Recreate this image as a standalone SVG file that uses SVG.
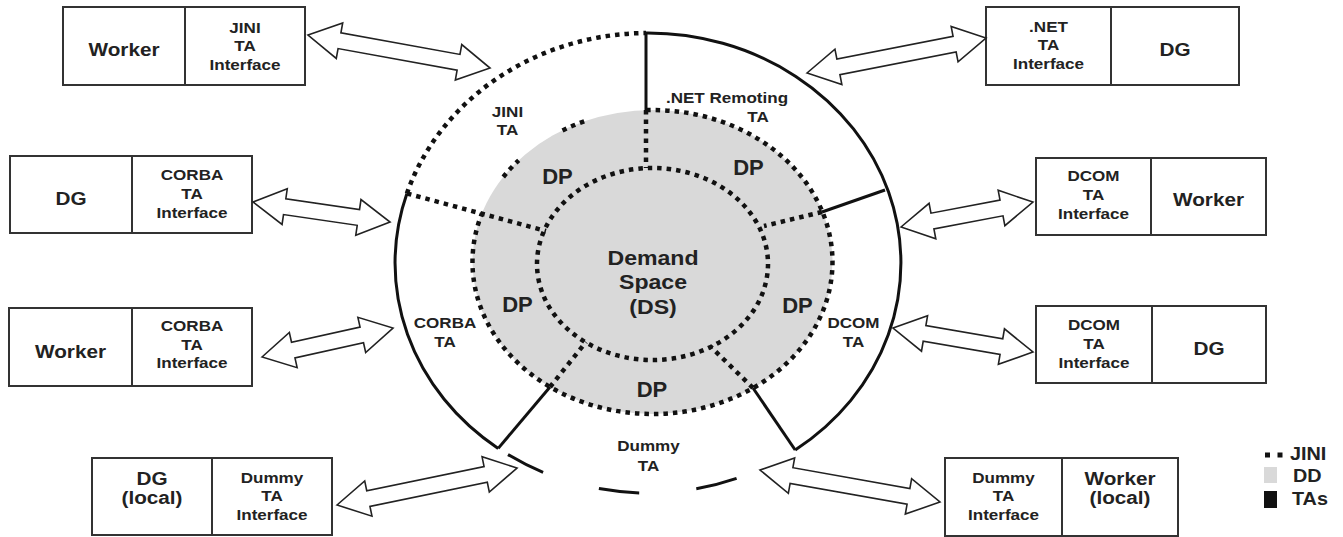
<svg xmlns="http://www.w3.org/2000/svg" width="1343" height="537" viewBox="0 0 1343 537">
<style>
.bx{fill:#fff;stroke:#333;stroke-width:2}
.dv{stroke:#333;stroke-width:2}
.t{font-family:"Liberation Sans",Arial,sans-serif;font-weight:bold;fill:#222;text-anchor:middle}
.big{font-size:18.5px}
.sm{font-size:15.5px}
.dp{font-size:22px}
.ds{font-size:21px}
.lg{font-size:18px;text-anchor:start}
.sol{fill:none;stroke:#111;stroke-width:3}
.dot{fill:none;stroke:#111;stroke-width:4.5;stroke-dasharray:4.5 5}
.ar{fill:#fff;stroke:#222;stroke-width:1.6;stroke-linejoin:miter}
</style>
<rect width="1343" height="537" fill="#fff"/>

<g id="ring">
  <ellipse cx="652.5" cy="262" rx="180" ry="152" fill="#d9d9d9"/>
  <path class="sol" d="M646 33 A253 230 0 0 1 795.2 450"/>
  <path class="sol" d="M498.2 448.4 A253 230 0 0 1 406.9 193.5"/>
  <path class="dot" d="M406.9 193.5 A253 230 0 0 1 646 33"/>
  <path class="sol" d="M508 454.6 A253 230 0 0 0 543.1 472.3"/>
  <path class="sol" d="M598.9 488.6 A253 230 0 0 0 639.2 492.9"/>
  <path class="sol" d="M696.3 488.8 A253 230 0 0 0 736.6 478.4"/>
  <line class="sol" x1="646" y1="33" x2="646" y2="110"/>
  <line class="dot" x1="646" y1="110" x2="646" y2="168"/>
  <line class="dot" x1="407" y1="193.5" x2="546" y2="231"/>
  <line class="sol" x1="885" y1="190" x2="822" y2="212"/>
  <line class="dot" x1="822" y1="212" x2="764" y2="226"/>
  <line class="sol" x1="498.2" y1="448.4" x2="550" y2="387"/>
  <line class="dot" x1="550" y1="387" x2="586" y2="342"/>
  <line class="sol" x1="795.2" y1="450" x2="753" y2="388"/>
  <line class="dot" x1="753" y1="388" x2="710" y2="346"/>
  <path class="dot" d="M646.2 110.1 A180 152 0 1 1 482.1 213"/>
  <path class="dot" d="M503.3 177 A180 152 0 0 1 518.7 160.3"/>
  <path class="dot" d="M562.5 130.4 A180 152 0 0 1 588 120.1"/>
  <ellipse class="dot" cx="652.5" cy="264" rx="115.5" ry="96"/>
  <text class="t sm" transform="translate(507.5 0) scale(1.1 1)"><tspan x="0" y="117">JINI</tspan><tspan x="0" y="135.5">TA</tspan></text>
  <text class="t sm" transform="translate(727 0) scale(1.1 1)"><tspan x="0" y="103">.NET Remoting</tspan></text>
  <text class="t sm" transform="translate(758 0) scale(1.1 1)"><tspan x="0" y="122">TA</tspan></text>
  <text class="t sm" transform="translate(445 0) scale(1.1 1)"><tspan x="0" y="328">CORBA</tspan><tspan x="0" y="347">TA</tspan></text>
  <text class="t sm" transform="translate(853.5 0) scale(1.1 1)"><tspan x="0" y="328">DCOM</tspan><tspan x="0" y="347">TA</tspan></text>
  <text class="t sm" transform="translate(648.5 0) scale(1.1 1)"><tspan x="0" y="451.5">Dummy</tspan><tspan x="0" y="471.5">TA</tspan></text>
  <text class="t dp" x="557.5" y="184">DP</text>
  <text class="t dp" x="748.5" y="175">DP</text>
  <text class="t dp" x="517.5" y="311.5">DP</text>
  <text class="t dp" x="797.5" y="313">DP</text>
  <text class="t dp" x="652" y="396.5">DP</text>
  <text class="t ds" transform="translate(653 0) scale(1.1 1)"><tspan x="0" y="265">Demand</tspan><tspan x="0" y="289.5">Space</tspan><tspan x="0" y="314">(DS)</tspan></text>
</g>

<g id="box-jini-worker">
  <rect class="bx" x="63" y="7" width="242" height="78"/>
  <line class="dv" x1="185" y1="7" x2="185" y2="85"/>
  <text class="t big" transform="translate(124 0) scale(1.12 1)"><tspan x="0" y="56">Worker</tspan></text>
  <text class="t sm" transform="translate(245 0) scale(1.1 1)"><tspan x="0" y="33">JINI</tspan><tspan x="0" y="51.5">TA</tspan><tspan x="0" y="70">Interface</tspan></text>
</g>
<g id="box-corba-dg">
  <rect class="bx" x="10" y="156" width="242" height="77"/>
  <line class="dv" x1="132" y1="156" x2="132" y2="233"/>
  <text class="t big" transform="translate(71 0) scale(1.12 1)"><tspan x="0" y="205">DG</tspan></text>
  <text class="t sm" transform="translate(192 0) scale(1.1 1)"><tspan x="0" y="180">CORBA</tspan><tspan x="0" y="199">TA</tspan><tspan x="0" y="218">Interface</tspan></text>
</g>
<g id="box-corba-worker">
  <rect class="bx" x="9" y="308" width="243" height="78"/>
  <line class="dv" x1="132" y1="308" x2="132" y2="386"/>
  <text class="t big" transform="translate(70.5 0) scale(1.12 1)"><tspan x="0" y="358">Worker</tspan></text>
  <text class="t sm" transform="translate(192 0) scale(1.1 1)"><tspan x="0" y="331.5">CORBA</tspan><tspan x="0" y="350">TA</tspan><tspan x="0" y="368.5">Interface</tspan></text>
</g>
<g id="box-dummy-dg">
  <rect class="bx" x="92" y="458" width="240" height="77"/>
  <line class="dv" x1="212" y1="458" x2="212" y2="535"/>
  <text class="t big" transform="translate(152 0) scale(1.12 1)"><tspan x="0" y="485">DG</tspan><tspan x="0" y="504.5">(local)</tspan></text>
  <text class="t sm" transform="translate(272 0) scale(1.1 1)"><tspan x="0" y="483">Dummy</tspan><tspan x="0" y="501.5">TA</tspan><tspan x="0" y="520">Interface</tspan></text>
</g>
<g id="box-net-dg">
  <rect class="bx" x="986" y="7" width="253" height="78"/>
  <line class="dv" x1="1111" y1="7" x2="1111" y2="85"/>
  <text class="t sm" transform="translate(1048.5 0) scale(1.1 1)"><tspan x="0" y="32">.NET</tspan><tspan x="0" y="50.5">TA</tspan><tspan x="0" y="69">Interface</tspan></text>
  <text class="t big" transform="translate(1175 0) scale(1.12 1)"><tspan x="0" y="56.5">DG</tspan></text>
</g>
<g id="box-dcom-worker">
  <rect class="bx" x="1036" y="158" width="230" height="77"/>
  <line class="dv" x1="1151" y1="158" x2="1151" y2="235"/>
  <text class="t sm" transform="translate(1093.5 0) scale(1.1 1)"><tspan x="0" y="181.5">DCOM</tspan><tspan x="0" y="200">TA</tspan><tspan x="0" y="219">Interface</tspan></text>
  <text class="t big" transform="translate(1208.5 0) scale(1.12 1)"><tspan x="0" y="206.5">Worker</tspan></text>
</g>
<g id="box-dcom-dg">
  <rect class="bx" x="1036" y="306" width="230" height="77"/>
  <line class="dv" x1="1152" y1="306" x2="1152" y2="383"/>
  <text class="t sm" transform="translate(1094 0) scale(1.1 1)"><tspan x="0" y="330">DCOM</tspan><tspan x="0" y="349">TA</tspan><tspan x="0" y="368">Interface</tspan></text>
  <text class="t big" transform="translate(1209 0) scale(1.12 1)"><tspan x="0" y="355">DG</tspan></text>
</g>
<g id="box-dummy-worker">
  <rect class="bx" x="945" y="458" width="233" height="78"/>
  <line class="dv" x1="1062" y1="458" x2="1062" y2="536"/>
  <text class="t sm" transform="translate(1003.5 0) scale(1.1 1)"><tspan x="0" y="483">Dummy</tspan><tspan x="0" y="501.5">TA</tspan><tspan x="0" y="520">Interface</tspan></text>
  <text class="t big" transform="translate(1120 0) scale(1.12 1)"><tspan x="0" y="485">Worker</tspan><tspan x="0" y="504.5">(local)</tspan></text>
</g>

<g id="connectors">
  <polygon class="ar" transform="translate(308 35) rotate(10.28)" points="0,0 32,-18 32,-8 153,-8 153,-18 185,0 153,18 153,8 32,8 32,18"/>
  <polygon class="ar" transform="translate(253 202) rotate(8.31)" points="0,0 32,-18 32,-8 106.5,-8 106.5,-18 138.5,0 106.5,18 106.5,8 32,8 32,18"/>
  <polygon class="ar" transform="translate(262 357) rotate(-12.48)" points="0,0 32,-18 32,-8 102.2,-8 102.2,-18 134.2,0 102.2,18 102.2,8 32,8 32,18"/>
  <polygon class="ar" transform="translate(337 505) rotate(-11.62)" points="0,0 32,-18 32,-8 151.8,-8 151.8,-18 183.8,0 151.8,18 151.8,8 32,8 32,18"/>
  <polygon class="ar" transform="translate(807 73) rotate(-11.06)" points="0,0 32,-18 32,-8 150.4,-8 150.4,-18 182.4,0 150.4,18 150.4,8 32,8 32,18"/>
  <polygon class="ar" transform="translate(901 227) rotate(-10.72)" points="0,0 32,-18 32,-8 102.3,-8 102.3,-18 134.3,0 102.3,18 102.3,8 32,8 32,18"/>
  <polygon class="ar" transform="translate(893 328) rotate(9.73)" points="0,0 32,-18 32,-8 110,-8 110,-18 142,0 110,18 110,8 32,8 32,18"/>
  <polygon class="ar" transform="translate(760 470) rotate(10.08)" points="0,0 32,-18 32,-8 150.8,-8 150.8,-18 182.8,0 150.8,18 150.8,8 32,8 32,18"/>
</g>

<g id="legend">
  <rect x="1265" y="452.5" width="5" height="5" fill="#111"/>
  <rect x="1277.5" y="452.5" width="5" height="5" fill="#111"/>
  <rect x="1264" y="467" width="13" height="16" fill="#d9d9d9"/>
  <rect x="1264" y="491" width="13" height="17" fill="#111"/>
  <text class="t lg" transform="translate(1290 0) scale(1.1 1)"><tspan x="0" y="460">JINI</tspan></text>
  <text class="t lg" transform="translate(1293 0) scale(1.1 1)"><tspan x="0" y="482">DD</tspan></text>
  <text class="t lg" transform="translate(1292 0) scale(1.1 1)"><tspan x="0" y="505">TAs</tspan></text>
</g>
</svg>
